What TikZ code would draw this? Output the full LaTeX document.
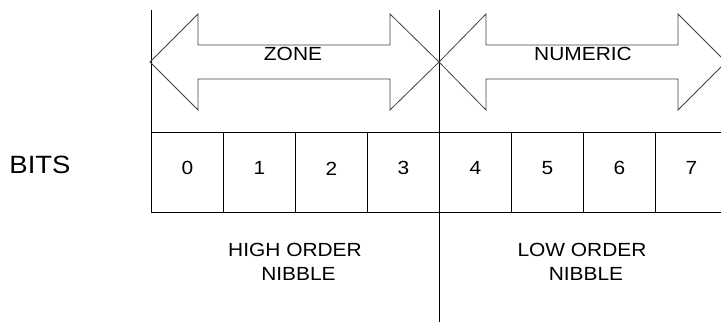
\documentclass[tikz,border=0pt]{standalone}
\usepackage{fontspec}
\setmainfont{Liberation Sans}[FakeStretch=1.1]
\begin{document}
\begin{tikzpicture}[x=1pt,y=-1pt,line width=0.9pt,
  cell/.style={draw=black, minimum width=72pt, minimum height=80pt, inner sep=0pt, anchor=north west},
  digit/.style={font=\fontsize{19}{22}\selectfont, inner sep=0pt},
  lbl/.style={font=\fontsize{19}{23}\selectfont, inner sep=0pt, align=center},
  bigarrow/.style={draw=black!75, line width=0.8pt}]
\useasboundingbox (0,0) rectangle (721,322);
\clip (0,0) rectangle (721,322);
% cells
\foreach \i in {0,...,7}{
  \node[cell] (c\i) at ({151+72*\i},132) {};
  \node[digit] (d\i) at ([yshift=4pt]c\i.center) {\i};
}
% vertical lines
\coordinate (ltop) at (151,10);
\coordinate (mtop) at (439,10);
\coordinate (mbot) at (439,322);
\draw (ltop) -- (c0.north west);
\draw (mtop) -- (mbot);
% arrows
\draw[bigarrow] (150,62) -- (198,14) -- (198,45) -- (390,45) -- (390,14) -- (439,62)
  -- (390,110) -- (390,79) -- (198,79) -- (198,110) -- cycle;
\draw[bigarrow] (439,62) -- (486,14) -- (486,45) -- (678,45) -- (678,14) -- (726,62)
  -- (678,110) -- (678,79) -- (486,79) -- (486,110) -- cycle;
\node[lbl] (zone) at (293,54) {ZONE};
\node[lbl] (numeric) at (583,54) {NUMERIC};
% labels
\node[font=\fontsize{25}{29}\selectfont, inner sep=0pt] (bits) at (40,165) {BITS};
\node[lbl] (high1) at (295,250) {HIGH ORDER};
\node[lbl] (high2) at (298.5,274) {NIBBLE};
\node[lbl] (low1) at (582,250) {LOW ORDER};
\node[lbl] (low2) at (586,274) {NIBBLE};
\end{tikzpicture}
\end{document}
